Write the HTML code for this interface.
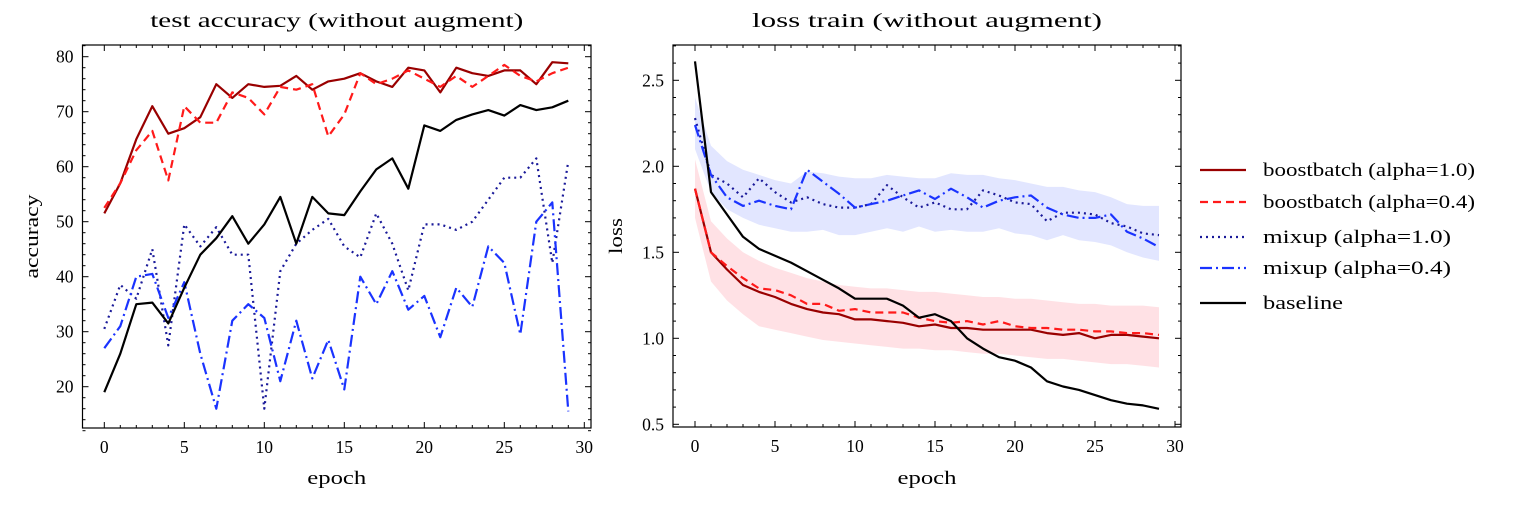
<!DOCTYPE html>
<html><head><meta charset="utf-8"><style>
html,body{margin:0;padding:0;background:#fff;}
svg{display:block;font-family:"Liberation Serif","DejaVu Serif",serif;}
</style></head><body>
<svg id="fig" width="1532" height="508" viewBox="0 0 1532 508" xmlns="http://www.w3.org/2000/svg"></svg>
<script>
const epochs = Array.from({length:30},(_,i)=>i);
// Left: test accuracy
const accBoost10 = [51.5,57,65,71,66,67,69,75,72.5,75,74.5,74.7,76.5,74,75.5,76,77,75.5,74.5,78,77.5,73.5,78,77,76.5,77.5,77.5,75,79,78.8];
const accBoost04 = [52.5,57,63,66.5,57.5,71,68,68,73.5,72.5,69.5,74.5,74,75,65.5,69.5,77,75,76,77.5,76,74.5,76.5,74.5,76.5,78.5,76.5,75.5,77,78];
const accMix10 = [30.5,38.5,36,45,27.5,49.5,45.5,49,44,44,16,41,46,48.5,50.5,45.5,43.5,51.5,46,37.5,49.5,49.5,48.5,50,54,58,58,61.5,42.5,61];
const accMix04 = [27,31,40,40.5,32.5,39,26,16,32,35,32.5,21,32,21.5,28.5,19.5,40,35,41,34,36.5,29,38,34.5,45.5,42.5,29.5,50,53.5,15.5];
const accBase = [19,26,35,35.3,31.5,38,44,47,51,46,49.5,54.5,46,54.5,51.5,51.2,55.5,59.5,61.5,56,67.5,66.5,68.5,69.5,70.3,69.3,71.2,70.3,70.8,72];
const accTicks = [20,30,40,50,60,70,80];
// Right: loss train
const lossBase = [2.61,1.85,1.72,1.59,1.52,1.48,1.44,1.39,1.34,1.29,1.23,1.23,1.23,1.19,1.12,1.14,1.10,1.00,0.94,0.89,0.87,0.83,0.75,0.72,0.70,0.67,0.64,0.62,0.61,0.59];
const lossBoost10 = [1.87,1.50,1.40,1.31,1.27,1.24,1.20,1.17,1.15,1.14,1.11,1.11,1.10,1.09,1.07,1.08,1.06,1.06,1.05,1.05,1.05,1.05,1.03,1.02,1.03,1.00,1.02,1.02,1.01,1.00];
const lossBoost04 = [1.87,1.50,1.42,1.35,1.29,1.28,1.25,1.20,1.20,1.16,1.17,1.15,1.15,1.15,1.12,1.10,1.09,1.10,1.08,1.10,1.07,1.06,1.06,1.05,1.05,1.04,1.04,1.03,1.03,1.02];
const lossMix10 = [2.28,1.95,1.90,1.82,1.93,1.85,1.79,1.82,1.78,1.76,1.76,1.78,1.89,1.82,1.76,1.79,1.75,1.75,1.86,1.83,1.79,1.78,1.68,1.73,1.73,1.72,1.67,1.65,1.61,1.60];
const lossMix04 = [2.24,1.95,1.82,1.77,1.80,1.77,1.75,1.98,1.91,1.84,1.76,1.78,1.80,1.83,1.86,1.81,1.87,1.82,1.76,1.80,1.82,1.83,1.76,1.72,1.70,1.70,1.72,1.62,1.58,1.53];
const redBandHi = [2.04,1.68,1.58,1.50,1.45,1.41,1.38,1.35,1.33,1.31,1.30,1.29,1.29,1.28,1.27,1.27,1.26,1.25,1.24,1.24,1.23,1.23,1.22,1.21,1.20,1.20,1.19,1.19,1.19,1.18];
const redBandLo = [1.70,1.33,1.22,1.14,1.07,1.05,1.03,1.01,0.99,0.98,0.97,0.96,0.95,0.94,0.94,0.93,0.93,0.92,0.91,0.91,0.90,0.89,0.88,0.88,0.87,0.86,0.85,0.85,0.84,0.83];
const blueBandHi = [2.40,2.12,2.03,1.98,1.95,1.92,1.90,1.97,1.96,1.94,1.93,1.93,1.95,1.94,1.93,1.93,1.96,1.95,1.95,1.93,1.92,1.90,1.88,1.88,1.86,1.85,1.82,1.78,1.77,1.77];
const blueBandLo = [2.10,1.85,1.75,1.70,1.66,1.64,1.62,1.62,1.63,1.60,1.60,1.62,1.64,1.62,1.65,1.62,1.63,1.62,1.62,1.64,1.61,1.60,1.57,1.60,1.57,1.56,1.54,1.50,1.47,1.45];
const lossTicks = [0.5,1.0,1.5,2.0,2.5];
const xTicks = [0,5,10,15,20,25,30];

const NS='http://www.w3.org/2000/svg';
const svg=document.getElementById('fig');
function mk(tag,attrs,parent){const e=document.createElementNS(NS,tag);for(const k in attrs)e.setAttribute(k,attrs[k]);(parent||svg).appendChild(e);return e;}

const C={b10:'#990000',b04:'#ff1a1a',m10:'#1a1a99',m04:'#1a33ff',base:'#000000'};
const STY={b10:'',b04:'8,5',m10:'2,4',m04:'12,4,2,4',base:''};

function line(ax,xs,ys,color,dash,name){
  const p=mk('polyline',{points:xs.map((x,i)=>ax.sx(x).toFixed(1)+','+ax.sy(ys[i]).toFixed(1)).join(' '),fill:'none',stroke:color,'stroke-width':2.2,'stroke-linejoin':'round','stroke-dasharray':dash||'none'});
  
  
}
function band(ax,xs,hi,lo,color,name){
  const pts=xs.map((x,i)=>ax.sx(x).toFixed(1)+','+ax.sy(hi[i]).toFixed(1)).concat(xs.slice().reverse().map((x,j)=>{const i=xs.length-1-j;return ax.sx(x).toFixed(1)+','+ax.sy(lo[i]).toFixed(1);}));
  const p=mk('polygon',{points:pts.join(' '),fill:color,stroke:'none'});
  
  
}
function frame(ax,yTicks,yMinorStep,ymin,ymax,yfmt,title,titleLen,ylabel,ylabLen,ylabX,prefix){
  const g=mk('g',{});
  
  
  mk('rect',{x:ax.x0,y:ax.y0,width:ax.x1-ax.x0,height:ax.y1-ax.y0,fill:'none',stroke:'#000','stroke-width':1.2},g);
  for(let v=0;v<=30;v++){const x=ax.sx(v);const L=(v%5===0)?6:3;
    mk('line',{x1:x,y1:ax.y1,x2:x,y2:ax.y1-L,stroke:'#000','stroke-width':1},g);
    mk('line',{x1:x,y1:ax.y0,x2:x,y2:ax.y0+L,stroke:'#000','stroke-width':1},g);}
  for(const v of xTicks){const t=mk('text',{x:ax.sx(v),y:ax.y1+25,'text-anchor':'middle','font-size':17.5},g);t.textContent=v;
    }
  const start=Math.ceil(ymin/yMinorStep-1e-6);
  for(let k=start;k*yMinorStep<=ymax+1e-9;k++){const v=k*yMinorStep;const y=ax.sy(v);
    const major=yTicks.some(t=>Math.abs(t-v)<1e-6);const L=major?6:3;
    mk('line',{x1:ax.x0,y1:y,x2:ax.x0+L,y2:y,stroke:'#000','stroke-width':1},g);
    mk('line',{x1:ax.x1,y1:y,x2:ax.x1-L,y2:y,stroke:'#000','stroke-width':1},g);}
  for(const v of yTicks){const t=mk('text',{x:ax.x0-9,y:ax.sy(v)+6,'text-anchor':'end','font-size':17.5},g);t.textContent=yfmt(v);
    }
  const tt=mk('text',{x:(ax.x0+ax.x1)/2,y:27,'text-anchor':'middle','font-size':20,textLength:titleLen,lengthAdjust:'spacingAndGlyphs'},g);tt.textContent=title;
  
  const xl=mk('text',{x:(ax.x0+ax.x1)/2,y:484,'text-anchor':'middle','font-size':19,textLength:59,lengthAdjust:'spacingAndGlyphs'},g);xl.textContent='epoch';
  
  const yc=(ax.y0+ax.y1)/2;
  const yl=mk('text',{x:ylabX,y:yc,'text-anchor':'middle','font-size':19,textLength:ylabLen,lengthAdjust:'spacingAndGlyphs',transform:'rotate(-90 '+ylabX+' '+yc+')'},g);yl.textContent=ylabel;
  
}

// left
const L={x0:82.5,x1:591,y0:45,y1:428};
L.sx=v=>104.3+v*16; L.sy=v=>441.7-(v-10)*5.5;
line(L,epochs,accBoost10,C.b10,STY.b10,'acc-boostbatch-1-0-line');
line(L,epochs,accBoost04,C.b04,STY.b04,'acc-boostbatch-0-4-line');
line(L,epochs,accMix10,C.m10,STY.m10,'acc-mixup-1-0-line');
line(L,epochs,accMix04,C.m04,STY.m04,'acc-mixup-0-4-line');
line(L,epochs,accBase,C.base,STY.base,'acc-baseline-line');
frame(L,accTicks,2,12,82,v=>v,'test accuracy (without augment)',373,'accuracy',84,38,'left');

// right
const R={x0:673,x1:1181,y0:45,y1:427};
R.sx=v=>695+v*16; R.sy=v=>338.3-(v-1.0)*172;
band(R,epochs,redBandHi,redBandLo,'rgba(255,120,135,0.22)','loss-boostbatch-band');
band(R,epochs,blueBandHi,blueBandLo,'rgba(110,130,255,0.2)','loss-mixup-band');
line(R,epochs,lossBoost10,C.b10,STY.b10,'loss-boostbatch-1-0-line');
line(R,epochs,lossBoost04,C.b04,STY.b04,'loss-boostbatch-0-4-line');
line(R,epochs,lossMix10,C.m10,STY.m10,'loss-mixup-1-0-line');
line(R,epochs,lossMix04,C.m04,STY.m04,'loss-mixup-0-4-line');
line(R,epochs,lossBase,C.base,STY.base,'loss-baseline-line');
frame(R,lossTicks,0.1,0.5,2.7,v=>v.toFixed(1),'loss train (without augment)',350,'loss',36,622,'right');

// legend
const lg=mk('g',{});


const legendLabels=['boostbatch (alpha=1.0)','boostbatch (alpha=0.4)','mixup (alpha=1.0)','mixup (alpha=0.4)','baseline'];
const legendLens=[212,212,188,188,80];
const legendKeys=['b10','b04','m10','m04','base'];
const legendY=[170,202,237,268,303];
legendLabels.forEach((lab,i)=>{
  const e=mk('g',{},lg);
  
  
  mk('line',{x1:1200,y1:legendY[i],x2:1246,y2:legendY[i],stroke:C[legendKeys[i]],'stroke-width':2.2,'stroke-dasharray':STY[legendKeys[i]]||'none'},e);
  const t=mk('text',{x:1263,y:legendY[i]+6,'font-size':19,textLength:legendLens[i],lengthAdjust:'spacingAndGlyphs'},e);t.textContent=lab;
});
</script>
</body></html>
